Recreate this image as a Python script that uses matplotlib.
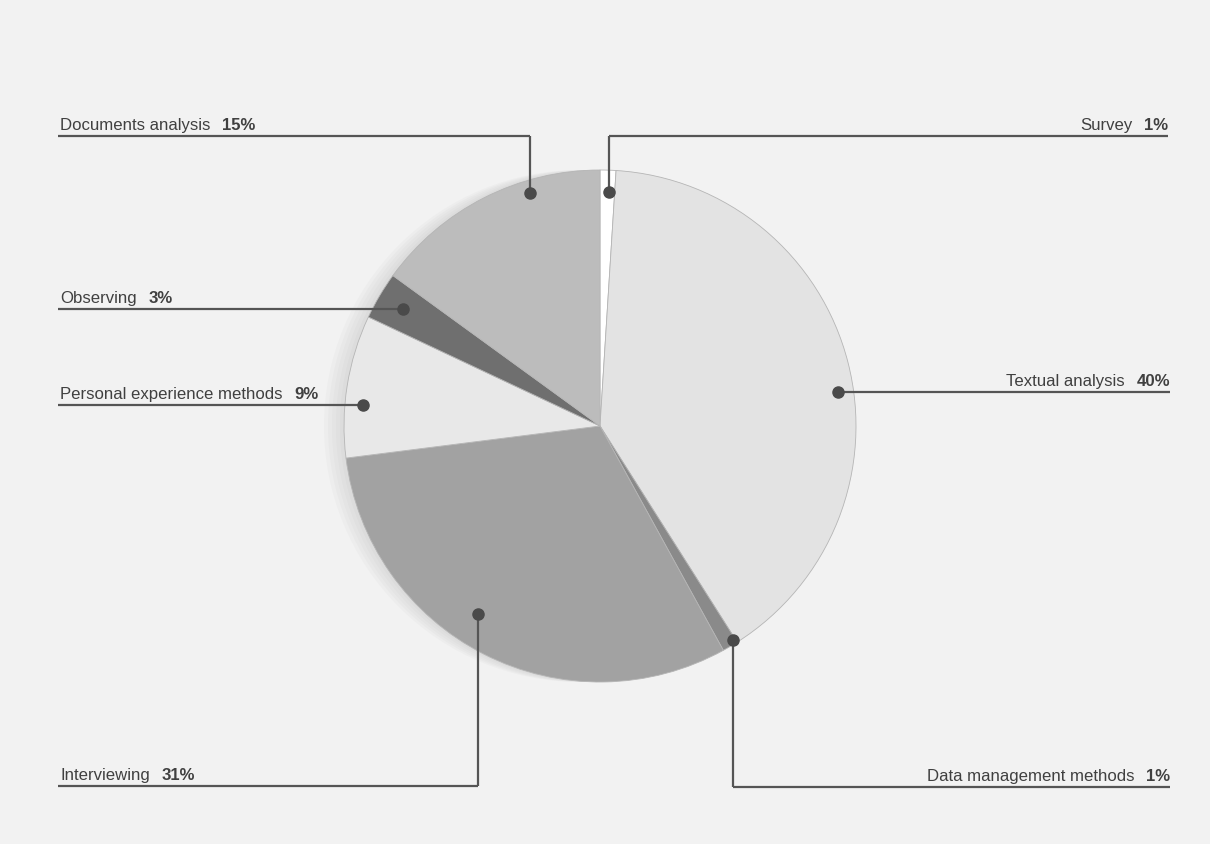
import matplotlib
matplotlib.use("Agg")
import matplotlib.pyplot as plt
from matplotlib.patches import Circle

# ---- data ----
categories = ["Survey", "Textual analysis", "Data management methods", "Interviewing",
              "Personal experience methods", "Observing", "Documents analysis"]
values = [1, 40, 1, 31, 9, 3, 15]
colors = ["#ffffff", "#e3e3e3", "#8a8a8a", "#a2a2a2", "#e8e8e8", "#6f6f6f", "#bcbcbc"]

# ---- layout (pixel coords, y downward) ----
W, H = 1210, 844
cx, cy, R = 600, 426, 256
# label: (text x, align, line y, line x end (far), dot x, dot y)
layout = {
    "Documents analysis":          (60,   "left",  136, 58,   530, 193),
    "Survey":                      (1168, "right", 136, 1168, 609, 192),
    "Observing":                   (60,   "left",  309, 58,   403, 309),
    "Personal experience methods": (60,   "left",  405, 58,   363, 405),
    "Textual analysis":            (1170, "right", 392, 1170, 838, 392),
    "Interviewing":                (60,   "left",  786, 58,   478, 614),
    "Data management methods":     (1170, "right", 787, 1170, 733, 640),
}

def Y(y):
    return H - y

plt.rcParams['font.family'] = ['Liberation Sans', 'DejaVu Sans']
fig = plt.figure(figsize=(W / 100, H / 100), dpi=100)
fig.patch.set_facecolor("#f2f2f2")
ax = fig.add_axes([0, 0, 1, 1])
ax.set_xlim(0, W)
ax.set_ylim(0, H)
ax.set_aspect("equal")
ax.axis("off")

# soft shadow to the left of the pie
for i in range(5):
    ax.add_patch(Circle((cx - 4 - 4 * i, Y(cy)), R, facecolor="#9a9a9a",
                        edgecolor="none", alpha=0.05, zorder=1))

wedges, _ = ax.pie(values, colors=colors, startangle=90, counterclock=False,
                   center=(cx, Y(cy)), radius=R, frame=True,
                   wedgeprops=dict(edgecolor="#b5b5b5", linewidth=0.6))
for w in wedges:
    w.set_zorder(2)
ax.set_xlim(0, W)
ax.set_ylim(0, H)
ax.axis("off")

lc = "#555555"
fs = 12.1
tc = "#404040"
for name, val in zip(categories, values):
    tx, ha, ly, lx, dx, dy = layout[name]
    ax.plot([lx, dx], [Y(ly), Y(ly)], color=lc, lw=1.6, zorder=3, solid_capstyle="butt")
    if dy != ly:
        ax.plot([dx, dx], [Y(ly), Y(dy)], color=lc, lw=1.6, zorder=3, solid_capstyle="butt")
    ax.plot([dx], [Y(dy)], "o", color="#4a4a4a", ms=8, zorder=4)
    if ha == "left":
        ax.text(tx, Y(ly) + 6, name, ha="left", va="baseline", fontsize=fs, color=tc, zorder=5)
        ax.annotate(f"{val}%", xy=(1, 0), xycoords=ax.texts[-1], xytext=(8.5, 0),
                    textcoords="offset points", ha="left", va="bottom",
                    fontsize=fs, fontweight="bold", color=tc, zorder=5)
    else:
        ax.text(tx, Y(ly) + 6, f"{val}%", ha="right", va="baseline", fontsize=fs,
                fontweight="bold", color=tc, zorder=5)
        ax.annotate(name, xy=(0, 0), xycoords=ax.texts[-1], xytext=(-8.5, 0),
                    textcoords="offset points", ha="right", va="bottom",
                    fontsize=fs, color=tc, zorder=5)

fig.savefig("out.png", dpi=100, facecolor=fig.get_facecolor())
